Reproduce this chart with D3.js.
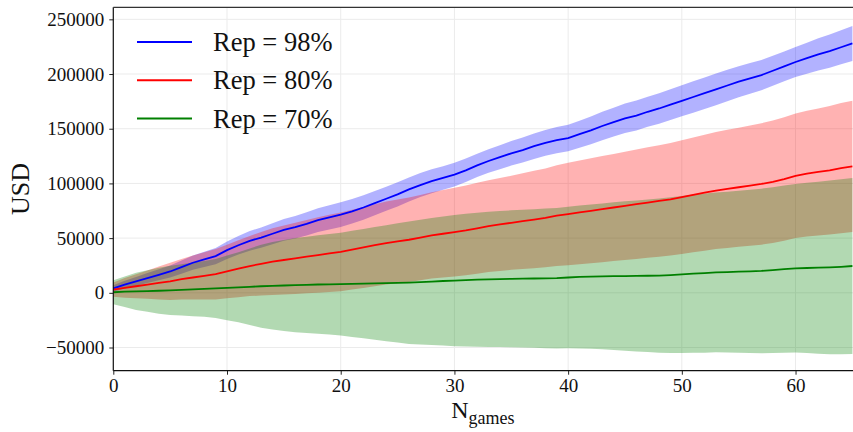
<!DOCTYPE html>
<html><head><meta charset="utf-8">
<script src="https://cdn.jsdelivr.net/npm/d3@7"></script>
<style>
html,body{margin:0;padding:0;background:#fff;}
svg{display:block;}
text{font-family:"Liberation Serif","DejaVu Serif",serif;fill:#111;}
</style></head>
<body>
<svg id="chart" width="853" height="432"></svg>
<script>
// ---- data ----
const games = d3.range(0, 66);
const seriesLabels = ["Rep = 98%", "Rep = 80%", "Rep = 70%"];
const seriesColors = ["#0000ff", "#ff0000", "#008000"];
const blueMean = [4000,7500,10500,13500,16500,19500,23500,27500,30500,33500,39000,43500,47500,50500,54000,57500,60000,63000,66500,69000,71500,74500,78000,82000,86000,90000,94500,98500,102000,105000,108000,112000,116500,120500,124000,127500,130500,134000,137000,139500,141500,145000,148500,152500,156000,159500,162000,165500,168500,172000,175500,179000,182500,186000,189500,193000,196000,199000,203000,207000,211000,214500,218000,221000,224500,228000];
const redMean = [3000,4500,6000,7500,9000,10500,12500,14000,15500,17000,19500,22000,24500,26500,28500,30000,31500,33000,34500,36000,37500,39500,41500,43500,45500,47000,48500,50500,52500,54000,55500,57000,59000,61000,62500,64000,65500,67000,68500,70500,72000,73500,75000,76500,78000,79500,81000,82500,84000,85500,87500,89500,91500,93500,95000,96500,98000,99500,101500,104000,107000,109000,110500,112000,114000,115500];
const greenMean = [500,1000,1300,1600,1900,2300,2700,3100,3600,4000,4500,5000,5500,6000,6400,6700,7000,7300,7600,7800,8000,8200,8400,8600,8800,9000,9300,9800,10300,10800,11200,11600,12000,12300,12600,12800,13000,13100,13200,13400,14000,14500,14800,15000,15200,15300,15400,15600,15800,16200,16800,17500,18000,18600,19000,19300,19600,20000,20800,21700,22400,22700,23000,23300,23800,24500];
const blueSpread = [3000,3500,4000,4500,5000,5500,6000,6500,7000,7500,8000,8500,9000,9300,9600,10000,10300,10600,10900,11100,11300,11200,11100,11000,11000,11000,11000,11000,10900,10800,10800,10700,10700,10800,11000,11200,11400,11600,11800,12000,12200,12400,12700,13000,13200,13500,13700,13800,14000,14100,14200,14300,14400,14500,14400,14200,14000,13800,13700,13700,13800,14200,14700,15200,15600,16000];
const redSpread = [6500,9000,11000,13000,15000,17000,18500,20000,21500,23000,24500,26000,27500,29000,30500,31500,32500,33500,34500,35300,36000,36500,37000,37500,38000,38300,38600,39000,39500,40000,40500,41000,41500,42000,42500,43000,43800,44500,45200,46000,46800,47500,48000,48500,49000,49500,50000,50500,51000,51500,52000,52500,53000,53500,54000,54500,55000,55500,56000,56500,57000,57500,58000,58800,59500,60000];
const greenSpread = [11000,14000,17000,19000,21000,22500,23500,24500,25500,27000,29500,32000,35000,38000,40000,41500,43000,44000,45000,46000,47000,48500,50000,51500,53000,54500,56000,57000,58000,59000,60000,60700,61300,61800,62200,62600,63000,63400,63800,64200,64700,65300,66000,66700,67500,68300,69000,69800,70500,71200,71800,72300,72700,73000,73500,74000,74600,75200,75800,76400,77000,77800,78600,79400,80000,80500];
const xTicks = [0,10,20,30,40,50,60];
const yTicks = [-50000,0,50000,100000,150000,200000,250000];

// ---- layout ----
const svg = d3.select("#chart");
const L = 113.3, R = 852.4, T = 7.3, B = 370.7;
const x = d3.scaleLinear().domain([0, 65]).range([L, R]);
const y = d3.scaleLinear().domain([-71200, 261000]).range([B, T]);

// grid
const grid = svg.append("g");
grid.selectAll(".gx").data(xTicks).join("line")
  .attr("x1", d => x(d)).attr("x2", d => x(d)).attr("y1", T).attr("y2", B)
  .attr("stroke", "#ebebeb").attr("stroke-width", 1);
grid.selectAll(".gy").data(yTicks).join("line")
  .attr("x1", L).attr("x2", 853).attr("y1", d => y(d)).attr("y2", d => y(d))
  .attr("stroke", "#ebebeb").attr("stroke-width", 1);

const series = [
  {mean: blueMean, spread: blueSpread},
  {mean: redMean, spread: redSpread},
  {mean: greenMean, spread: greenSpread}
];

const area = d3.area()
  .x(d => x(d.g)).y0(d => y(d.m - d.s)).y1(d => y(d.m + d.s));
const line = d3.line().x(d => x(d.g)).y(d => y(d.m));

const plot = svg.append("g");
series.forEach((s, i) => {
  const pts = games.map((g, k) => ({g, m: s.mean[k], s: s.spread[k]}));
  plot.append("path").datum(pts).attr("d", area)
    .attr("fill", seriesColors[i]).attr("fill-opacity", 0.3).attr("stroke", "none");
});
series.forEach((s, i) => {
  const pts = games.map((g, k) => ({g, m: s.mean[k]}));
  plot.append("path").datum(pts).attr("d", line)
    .attr("fill", "none").attr("stroke", seriesColors[i]).attr("stroke-width", 1.8);
});

// axes
const fmt = d => d < 0 ? "\u2212" + Math.abs(d) : String(d);
const xAxis = svg.append("g").attr("transform", `translate(0,${B})`)
  .call(d3.axisBottom(x).tickValues(xTicks).tickSize(4).tickPadding(4).tickFormat(d => d));
const yAxis = svg.append("g").attr("transform", `translate(${L},0)`)
  .call(d3.axisLeft(y).tickValues(yTicks).tickSize(4).tickPadding(5).tickFormat(fmt));
[xAxis, yAxis].forEach(a => {
  a.select(".domain").remove();
  a.selectAll(".tick line").attr("stroke", "#222").attr("stroke-width", 1);
  a.selectAll(".tick text").style("font-family", '"Liberation Serif", serif')
    .style("font-size", "19px").attr("fill", "#222");
});
// spines
svg.append("line").attr("x1", L).attr("x2", L).attr("y1", T).attr("y2", B).attr("stroke", "#111").attr("stroke-width", 1.2);
svg.append("line").attr("x1", L).attr("x2", 853).attr("y1", B).attr("y2", B).attr("stroke", "#111").attr("stroke-width", 1.2);
svg.append("line").attr("x1", L).attr("x2", 853).attr("y1", T).attr("y2", T).attr("stroke", "#333").attr("stroke-width", 1.2);

// axis labels
const xl = svg.append("text").attr("x", (L + R) / 2).attr("y", 418).attr("text-anchor", "middle")
  .style("font-size", "24px");
xl.append("tspan").text("N");
xl.append("tspan").attr("dy", 6).style("font-size", "18px").text("games");

svg.append("text").attr("transform", `translate(29,${(T + B) / 2}) rotate(-90)`)
  .attr("text-anchor", "middle").style("font-size", "26px").text("USD");

// legend
const leg = svg.append("g");
seriesLabels.forEach((lab, i) => {
  const yy = 42 + i * 38.3;
  leg.append("line").attr("x1", 137).attr("x2", 192).attr("y1", yy).attr("y2", yy)
    .attr("stroke", seriesColors[i]).attr("stroke-width", 2);
  leg.append("text").attr("x", 213).attr("y", yy + 9).style("font-size", "26.5px").text(lab);
});
</script>
</body></html>
